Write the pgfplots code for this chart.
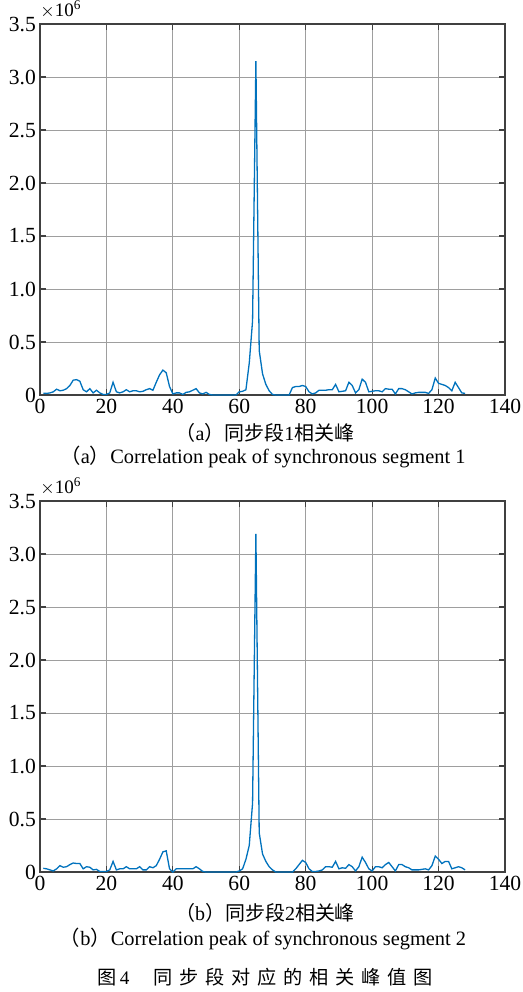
\documentclass[border=0pt]{standalone}
\usepackage{fontspec}
\setmainfont{Liberation Serif}
\newfontfamily\cjk{Noto Sans CJK SC}
\usepackage{pgfplots}
\usepackage{pgfplotstable}
\pgfplotsset{compat=1.18}
\definecolor{mblue}{rgb}{0,0.447,0.741}

\pgfplotstableread{
x y
1 0.016
2 0.015
3 0.02
4 0.03
5 0.055
6 0.04
7 0.045
8 0.06
9 0.09
10 0.14
11 0.145
12 0.13
13 0.05
14 0.03
15 0.06
16 0.02
17 0.045
18 0.02
19 0.005
20 0.005
21 0.02
22 0.12
23 0.03
24 0.02
25 0.03
26 0.05
27 0.03
28 0.04
29 0.04
30 0.03
31 0.035
32 0.05
33 0.06
34 0.045
35 0.12
36 0.19
37 0.235
38 0.21
39 0.08
40 0.01
41 0.02
42 0.02
43 0.005
44 0.025
45 0.03
46 0.045
47 0.06
48 0.02
49 0.01
50 0.025
51 0.005
52 0
53 0
54 0
55 0
56 0
57 0
58 0
59 0
60 0.03
61 0.035
62 0.05
63 0.3
64 0.7
65 3.15
66 0.42
67 0.2
68 0.1
69 0.04
70 0.005
71 0
72 0
73 0
74 0
75 0
76 0.07
77 0.08
78 0.08
79 0.09
80 0.08
81 0.03
82 0.01
83 0.02
84 0.045
85 0.045
86 0.045
87 0.05
88 0.05
89 0.1
90 0.03
91 0.035
92 0.04
93 0.12
94 0.09
95 0.02
96 0.05
97 0.15
98 0.12
99 0.03
100 0.035
101 0.04
102 0.04
103 0.03
104 0.06
105 0.055
106 0.055
107 0.01
108 0.06
109 0.06
110 0.05
111 0.03
112 0.01
113 0.02
114 0.025
115 0.025
116 0.025
117 0.015
118 0.05
119 0.16
120 0.11
121 0.1
122 0.09
123 0.07
124 0.04
125 0.12
126 0.07
127 0.02
128 0.015
}\dataA

\pgfplotstableread{
x y
1 0.035
2 0.03
3 0.02
4 0.01
5 0.03
6 0.06
7 0.045
8 0.05
9 0.07
10 0.085
11 0.08
12 0.08
13 0.03
14 0.05
15 0.045
16 0.02
17 0.025
18 0.005
19 0.005
20 0.005
21 0.02
22 0.1
23 0.02
24 0.03
25 0.03
26 0.05
27 0.03
28 0.03
29 0.03
30 0.05
31 0.02
32 0.02
33 0.05
34 0.04
35 0.06
36 0.12
37 0.19
38 0.2
39 0.03
40 0.0
41 0.03
42 0.03
43 0.03
44 0.03
45 0.03
46 0.03
47 0.05
48 0.03
49 0.005
50 0
51 0
52 0
53 0
54 0
55 0
56 0
57 0
58 0
59 0
60 0.01
61 0.03
62 0.12
63 0.25
64 0.65
65 3.19
66 0.37
67 0.17
68 0.1
69 0.05
70 0.02
71 0
72 0
73 0
74 0
75 0
76 0
77 0.03
78 0.07
79 0.11
80 0.09
81 0.03
82 0.005
83 0.005
84 0.01
85 0.02
86 0.05
87 0.05
88 0.045
89 0.1
90 0.03
91 0.04
92 0.035
93 0.07
94 0.05
95 0.01
96 0.05
97 0.14
98 0.09
99 0.03
100 0.01
101 0.05
102 0.05
103 0.04
104 0.07
105 0.09
106 0.05
107 0.01
108 0.07
109 0.07
110 0.05
111 0.04
112 0.02
113 0.02
114 0.02
115 0.025
116 0.03
117 0.02
118 0.06
119 0.15
120 0.12
121 0.08
122 0.1
123 0.1
124 0.03
125 0.04
126 0.05
127 0.04
128 0.02
}\dataB

\pgfplotsset{mystyle/.style={
  scale only axis, width=232.5pt, height=185.5pt,
  xmin=0, xmax=140, ymin=0, ymax=3.5,
  xtick={0,20,...,140}, ytick={0,0.5,...,3.5},
  yticklabels={0,0.5,1.0,1.5,2.0,2.5,3.0,3.5},
  grid=major, major grid style={black!38, line width=0.5pt},
  axis line style={black!75, line width=0.6pt},
  tick style={black!75, line width=0.6pt},
  tick align=inside, major tick length=3pt,
  xtick pos=both, ytick pos=both,
  clip mode=individual,
  ticklabel style={font=\fontsize{10.8}{12}\selectfont},
  xticklabel style={yshift=1.5pt},
  yticklabel style={xshift=1.5pt},
  /pgf/number format/assume math mode=true,
  anchor=north west,
}}

\begin{document}
\begin{tikzpicture}
\useasboundingbox (0,0) rectangle (261.5pt,-496pt);
\begin{axis}[mystyle, at={(20pt,-12pt)}]
\addplot[mblue, line width=0.65pt] table {\dataA};
\node[anchor=south west, inner sep=0pt, font=\fontsize{9.5}{10}\selectfont] at (rel axis cs:0,1) [yshift=2.5pt] {$\times$10\textsuperscript{6}};
\end{axis}
\begin{axis}[mystyle, at={(20pt,-250.5pt)}]
\addplot[mblue, line width=0.65pt] table {\dataB};
\node[anchor=south west, inner sep=0pt, font=\fontsize{9.5}{10}\selectfont] at (rel axis cs:0,1) [yshift=2.5pt] {$\times$10\textsuperscript{6}};
\end{axis}
\node[anchor=base, font=\fontsize{10}{12}\selectfont] at (132.5pt,-220pt) {{\cjk （}a{\cjk ）同步段}1{\cjk 相关峰}};
\node[anchor=base, font=\fontsize{10.2}{12}\selectfont] at (131.5pt,-231.5pt) {{\cjk （}a{\cjk ）}Correlation peak of synchronous segment 1};
\node[anchor=base, font=\fontsize{10}{12}\selectfont] at (132.5pt,-460pt) {{\cjk （}b{\cjk ）同步段}2{\cjk 相关峰}};
\node[anchor=base, font=\fontsize{10.2}{12}\selectfont] at (131.5pt,-472.5pt) {{\cjk （}b{\cjk ）}Correlation peak of synchronous segment 2};
\node[anchor=base, font=\fontsize{9.6}{11}\selectfont] at (132.5pt,-492pt) {{\cjk 图}\,4\hspace{12pt}{\cjk 同\hspace{3.4pt}步\hspace{3.4pt}段\hspace{3.4pt}对\hspace{3.4pt}应\hspace{3.4pt}的\hspace{3.4pt}相\hspace{3.4pt}关\hspace{3.4pt}峰\hspace{3.4pt}值\hspace{3.4pt}图}};
\end{tikzpicture}
\end{document}
